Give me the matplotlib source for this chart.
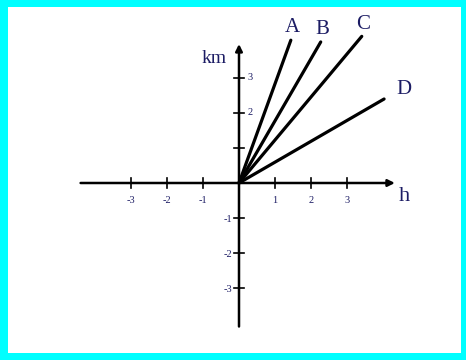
import matplotlib as mpl
mpl.use('Agg')
import matplotlib.pyplot as plt
from matplotlib.patches import Rectangle

# end points of the lines from the origin (h, km)
names = ['A', 'B', 'C', 'D']
end_h = [1.44, 2.27, 3.41, 4.03]
end_km = [4.08, 4.03, 4.19, 2.40]

x_ticks = [-3, -2, -1, 1, 2, 3]
y_ticks = [-3, -2, -1, 1, 2, 3]
y_labels = {3: '3', 2: '2', -1: '-1', -2: '-2', -3: '-3'}

navy = '#1c1c64'
serif = 'Liberation Serif'

fig = plt.figure(figsize=(4.66, 3.6), dpi=100)
fig.patch.set_facecolor('#00ffff')
fig.patches.append(Rectangle((8 / 466, 7 / 360), 1 - 13 / 466, 1 - 14 / 360,
                             transform=fig.transFigure, facecolor='white',
                             edgecolor='none', zorder=-5))

ax = fig.add_axes([0, 0, 1, 1])
ax.set_zorder(2)
ax.set_facecolor('none')
ax.set_xlim(-239 / 36, (466 - 239) / 36)
ax.set_ylim((183 - 360) / 35, 183 / 35)
ax.axis('off')

# axes with arrows
ax.annotate('', xy=(4.33, 0), xytext=(-4.4, 0),
            arrowprops=dict(arrowstyle='-|>', lw=1.8, color='black',
                            mutation_scale=10, shrinkA=0, shrinkB=0))
ax.annotate('', xy=(0, 3.97), xytext=(0, -4.1),
            arrowprops=dict(arrowstyle='-|>', lw=1.8, color='black',
                            mutation_scale=10, shrinkA=0, shrinkB=0))

for t in x_ticks:
    ax.plot([t, t], [-0.15, 0.15], color='black', lw=1.2)
    ax.text(t, -0.5, str(t), ha='center', va='center', fontsize=7.5,
            color=navy, family=serif)

for t in y_ticks:
    ax.plot([-0.15, 0.15], [t, t], color='black', lw=1.2)
    if t in y_labels:
        if t > 0:
            ax.text(0.24, t, y_labels[t], ha='left', va='center', fontsize=7.5,
                    color=navy, family=serif)
        else:
            ax.text(-0.2, t - 0.04, y_labels[t], ha='right', va='center',
                    fontsize=7.5, color=navy, family=serif)

for n, h, k in zip(names, end_h, end_km):
    ax.plot([0, h], [0, k], color='black', lw=2.3, solid_capstyle='round')
    ax.text(h + 0.05 if n != 'D' else h + 0.55, k + 0.35 if n != 'D' else k + 0.28,
            n, ha='center', va='center', fontsize=15, color=navy, family=serif)

ax.text(-0.68, 3.57, 'km', ha='center', va='center', fontsize=14,
        color=navy, family=serif)
ax.text(4.6, -0.4, 'h', ha='center', va='center', fontsize=16,
        color=navy, family=serif)

fig.savefig('out.png', dpi=100, facecolor=fig.get_facecolor())
